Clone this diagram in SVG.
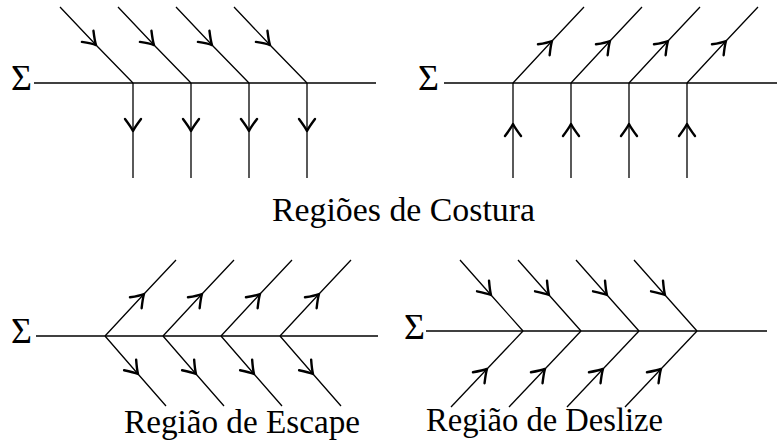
<svg xmlns="http://www.w3.org/2000/svg" width="777" height="441" viewBox="0 0 777 441">
  <style>
    .ln { fill: none; stroke: #000; stroke-width: 1.3; }
    .arw { fill: none; stroke: #000; stroke-width: 2.4; stroke-linecap: round; stroke-linejoin: round; }
    .lbl { font-family: "Liberation Serif", "DejaVu Serif", serif; font-size: 34px; fill: #000; }
    .sig { font-family: "Liberation Serif", "DejaVu Serif", serif; font-size: 36px; fill: #000; }
  </style>
  <defs>
    <!-- open chevron arrowhead placed at the middle vertex of each polyline -->
    <marker id="mid" markerUnits="userSpaceOnUse" markerWidth="22" markerHeight="22" viewBox="-15 -11 18 22" refX="0" refY="0" orient="auto">
      <path class="arw" d="M-12,-8 Q-4,-2 0,0 Q-4,2 -12,8"/>
    </marker>
  </defs>

  <!-- Regiões de Costura: incoming on the left -->
  <g id="sewing-in">
    <text class="sig" x="11" y="90">Σ</text>
    <g class="connectors">
      <line class="ln" x1="34" y1="83" x2="376" y2="83"/>
      <polyline class="ln" marker-mid="url(#mid)" points="60,7 96,45 133,83"/>
      <polyline class="ln" marker-mid="url(#mid)" points="118,7 154,45 191,83"/>
      <polyline class="ln" marker-mid="url(#mid)" points="176,7 212,45 249,83"/>
      <polyline class="ln" marker-mid="url(#mid)" points="234,7 270,45 307,83"/>
      <polyline class="ln" marker-mid="url(#mid)" points="133,83 133,131 133,178"/>
      <polyline class="ln" marker-mid="url(#mid)" points="191,83 191,131 191,178"/>
      <polyline class="ln" marker-mid="url(#mid)" points="249,83 249,131 249,178"/>
      <polyline class="ln" marker-mid="url(#mid)" points="307,83 307,131 307,178"/>
    </g>
  </g>

  <!-- Regiões de Costura: outgoing on the right -->
  <g id="sewing-out">
    <text class="sig" x="418" y="90">Σ</text>
    <g class="connectors">
      <line class="ln" x1="444" y1="83" x2="777" y2="83"/>
      <polyline class="ln" marker-mid="url(#mid)" points="513,178 513,124 513,83"/>
      <polyline class="ln" marker-mid="url(#mid)" points="571,178 571,124 571,83"/>
      <polyline class="ln" marker-mid="url(#mid)" points="629,178 629,124 629,83"/>
      <polyline class="ln" marker-mid="url(#mid)" points="687,178 687,124 687,83"/>
      <polyline class="ln" marker-mid="url(#mid)" points="513,83 552,41 584,7"/>
      <polyline class="ln" marker-mid="url(#mid)" points="571,83 610,41 642,7"/>
      <polyline class="ln" marker-mid="url(#mid)" points="629,83 668,41 700,7"/>
      <polyline class="ln" marker-mid="url(#mid)" points="687,83 726,41 758,7"/>
    </g>
  </g>

  <text class="lbl" x="272" y="221" textLength="263" lengthAdjust="spacingAndGlyphs">Regiões de Costura</text>

  <!-- Região de Escape -->
  <g id="escape">
    <text class="sig" x="11" y="343">Σ</text>
    <g class="connectors">
      <line class="ln" x1="36" y1="336" x2="378" y2="336"/>
      <polyline class="ln" marker-mid="url(#mid)" points="105,336 144,294 176,260"/>
      <polyline class="ln" marker-mid="url(#mid)" points="163,336 202,294 234,260"/>
      <polyline class="ln" marker-mid="url(#mid)" points="221,336 260,294 292,260"/>
      <polyline class="ln" marker-mid="url(#mid)" points="280,336 319,294 351,260"/>
      <polyline class="ln" marker-mid="url(#mid)" points="105,336 138,374 166,406"/>
      <polyline class="ln" marker-mid="url(#mid)" points="163,336 196,374 224,406"/>
      <polyline class="ln" marker-mid="url(#mid)" points="221,336 254,374 282,406"/>
      <polyline class="ln" marker-mid="url(#mid)" points="280,336 313,374 341,406"/>
    </g>
    <text class="lbl" x="124" y="433" textLength="236" lengthAdjust="spacingAndGlyphs">Região de Escape</text>
  </g>

  <!-- Região de Deslize -->
  <g id="sliding">
    <text class="sig" x="404" y="339">Σ</text>
    <g class="connectors">
      <line class="ln" x1="426" y1="331" x2="767" y2="331"/>
      <polyline class="ln" marker-mid="url(#mid)" points="460,260 491,295 523,331"/>
      <polyline class="ln" marker-mid="url(#mid)" points="518,260 549,295 581,331"/>
      <polyline class="ln" marker-mid="url(#mid)" points="576,260 607,295 639,331"/>
      <polyline class="ln" marker-mid="url(#mid)" points="634,260 665,295 697,331"/>
      <polyline class="ln" marker-mid="url(#mid)" points="451,407 487,369 523,331"/>
      <polyline class="ln" marker-mid="url(#mid)" points="509,407 545,369 581,331"/>
      <polyline class="ln" marker-mid="url(#mid)" points="567,407 603,369 639,331"/>
      <polyline class="ln" marker-mid="url(#mid)" points="625,407 661,369 697,331"/>
    </g>
    <text class="lbl" x="426" y="431" textLength="237" lengthAdjust="spacingAndGlyphs">Região de Deslize</text>
  </g>
</svg>
